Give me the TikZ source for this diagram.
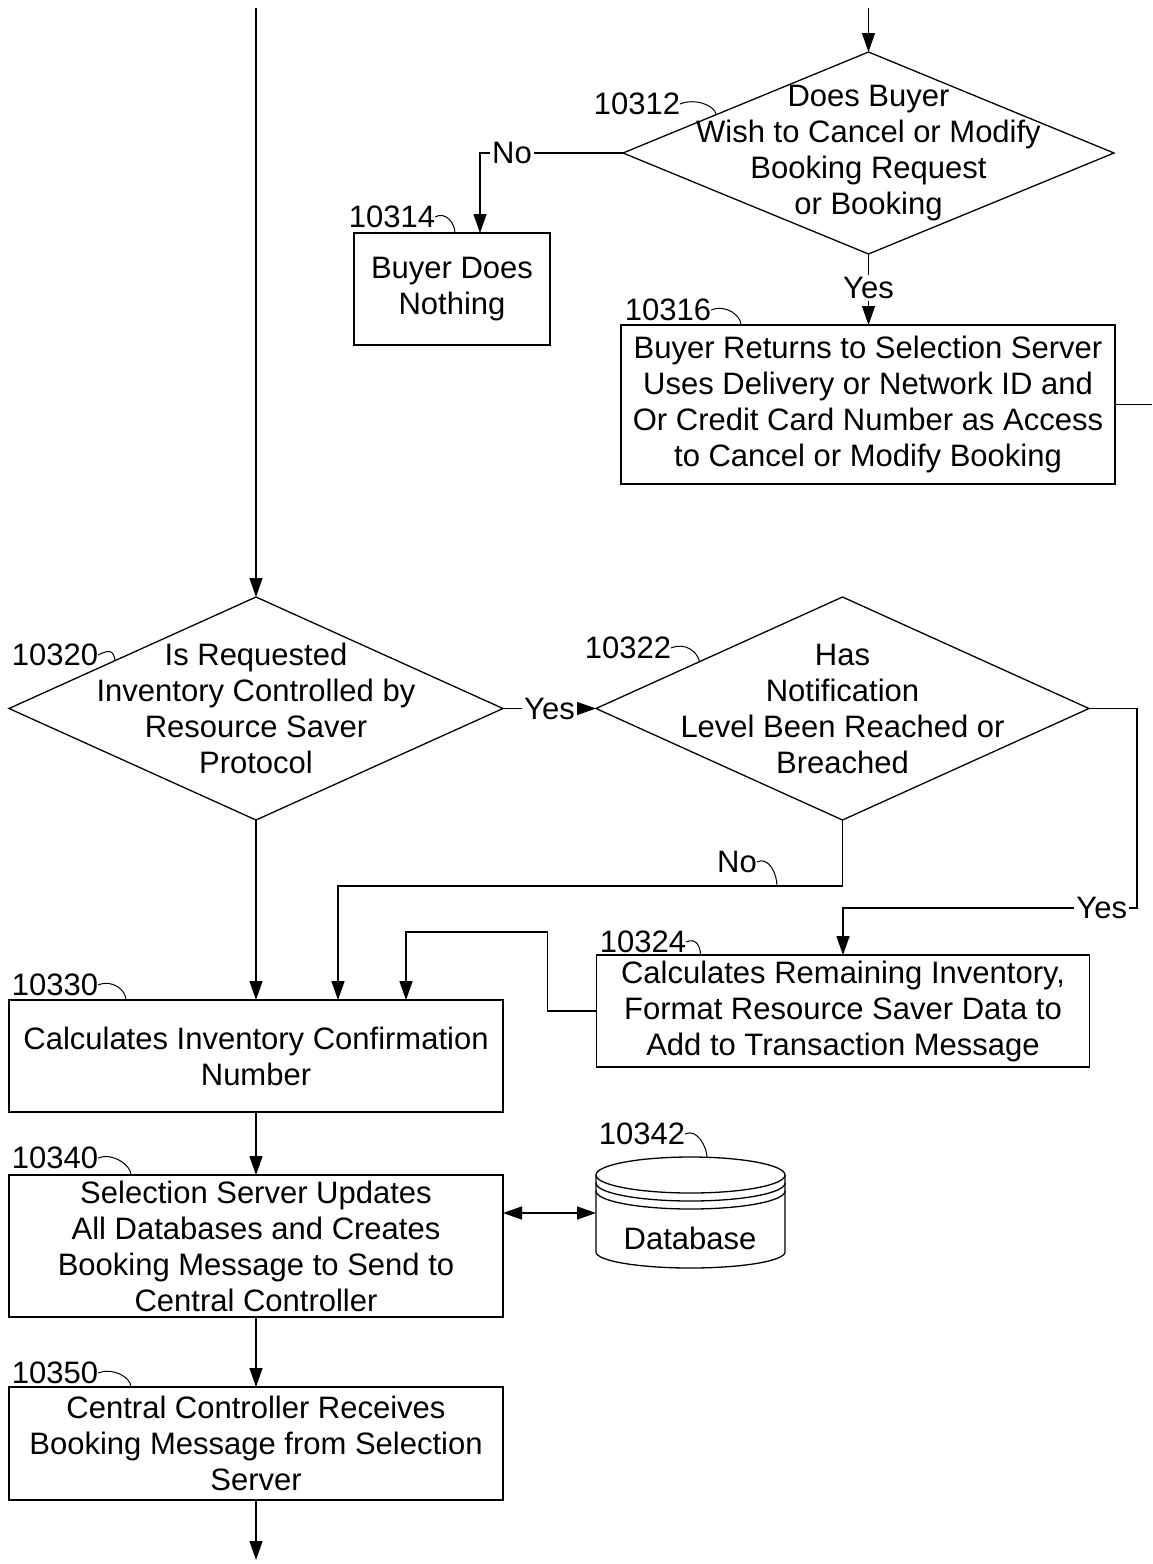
\documentclass[tikz,border=0pt]{standalone}
\usepackage{fontspec}
\setmainfont{Liberation Sans}
\usetikzlibrary{shapes.geometric,arrows.meta,calc}
\begin{document}
\begin{tikzpicture}[x=1pt,y=-1pt,
  every node/.style={font=\fontsize{31}{36}\selectfont, inner sep=0pt, outer sep=0pt},
  stepbox/.style={draw, line width=1.3pt, align=center},
  decision/.style={draw, diamond, line width=1.3pt},
  qtext/.style={align=center},
  flow/.style={line width=1.3pt},
  arr/.style={flow, -{Triangle[length=19pt,width=13pt]}},
  curl/.style={line width=1pt},
  tag/.style={fill=white, inner sep=2pt}]
\useasboundingbox (0,0) rectangle (1152,1564);
\fill[white] (0,0) rectangle (1152,1564);

% ---- decisions ----
\node[decision, minimum width=491pt, minimum height=202pt] (d10312) at (868.5,153) {};
\node[qtext] (t10312) at (d10312.center) {Does Buyer\\Wish to Cancel or Modify\\Booking Request\\or Booking};

\node[decision, minimum width=494pt, minimum height=223pt] (d10320) at (256,708.5) {};
\node[qtext] (t10320) at (d10320.center) {Is Requested\\Inventory Controlled by\\Resource Saver\\Protocol};

\node[decision, minimum width=493pt, minimum height=223pt] (d10322) at (842.5,708.5) {};
\node[qtext] (t10322) at (d10322.center) {Has\\Notification\\Level Been Reached or\\Breached};

% ---- process steps ----
\node[stepbox, minimum width=196pt, minimum height=112pt] (b10314) at (452,289) {Buyer Does\\Nothing};
\node[stepbox, minimum width=494pt, minimum height=159pt] (b10316) at (868,404.5)
  {Buyer Returns to Selection Server\\Uses Delivery or Network ID and\\Or Credit Card Number as Access\\to Cancel or Modify Booking};
\node[stepbox, minimum width=493pt, minimum height=112pt] (b10324) at (843,1011)
  {Calculates Remaining Inventory,\\Format Resource Saver Data to\\Add to Transaction Message};
\node[stepbox, minimum width=494pt, minimum height=112pt] (b10330) at (256,1056)
  {Calculates Inventory Confirmation\\Number};
\node[stepbox, minimum width=494pt, minimum height=142pt] (b10340) at (256,1246)
  {Selection Server Updates\\All Databases and Creates\\Booking Message to Send to\\Central Controller};
\node[stepbox, minimum width=494pt, minimum height=113pt] (b10350) at (256,1443.5)
  {Central Controller Receives\\Booking Message from Selection\\Server};

% ---- database cylinder ----
\node[minimum width=189pt, minimum height=77pt] (db) at (690.5,1213.5) {};
\draw[flow] (db.north west) -- (db.south west)
  arc[start angle=180, end angle=0, x radius=94.5, y radius=16] -- (db.north east);
\draw[flow] (db.north) ellipse [x radius=94.5, y radius=18];
\draw[flow] ([yshift=-8pt]db.north west) arc[start angle=180, end angle=0, x radius=94.5, y radius=18];
\draw[flow] ([yshift=-16pt]db.north west) arc[start angle=180, end angle=0, x radius=94.5, y radius=18];
\node (tdb) at (690,1238) {Database};

% ---- reference numerals ----
\node (n10312) at (637,104) {10312};
\node (n10314) at (392,217) {10314};
\node (n10316) at (668,310) {10316};
\node (n10320) at (55,655) {10320};
\node (n10322) at (628,648) {10322};
\node (n10324) at (643,942) {10324};
\node (n10330) at (55,985) {10330};
\node (n10340) at (55,1158) {10340};
\node (n10342) at (642,1134) {10342};
\node (n10350) at (55,1373) {10350};

\draw[curl] (n10312.east) .. controls +(14,-6) and +(-2,-10) .. ($(d10312.west)!0.38!(d10312.north)$);
\draw[curl] (n10314.east) .. controls +(10,-6) and +(0,-10) .. ([xshift=101pt]b10314.north west);
\draw[curl] (n10316.east) .. controls +(14,-6) and +(0,-10) .. ([xshift=120pt]b10316.north west);
\draw[curl] (n10320.east) .. controls +(12,-6) and +(-2,-10) .. ($(d10320.west)!0.43!(d10320.north)$);
\draw[curl] (n10322.east) .. controls +(14,-6) and +(-2,-10) .. ($(d10322.west)!0.42!(d10322.north)$);
\draw[curl] (n10324.east) .. controls +(10,-5) and +(0,-8) .. ([xshift=104pt]b10324.north west);
\draw[curl] (n10330.east) .. controls +(14,-6) and +(0,-10) .. ([xshift=117pt]b10330.north west);
\draw[curl] (n10340.east) .. controls +(14,-6) and +(0,-10) .. ([xshift=122pt]b10340.north west);
\draw[curl] (n10342.east) .. controls +(12,-6) and +(0,-10) .. ([xshift=16.5pt,yshift=17.7pt]db.north);
\draw[curl] (n10350.east) .. controls +(14,-6) and +(0,-10) .. ([xshift=122pt]b10350.north west);

% ---- connectors ----
\coordinate (inL) at (256,8);
\coordinate (inR) at (868.5,8);
\coordinate (outR) at (1152,404.5);
\coordinate (outB) at (256,1560);
\coordinate (yesTurn) at (1137,908);
\coordinate (noHook) at (777,886);

\draw[arr] (inR) -- (d10312.north);
\draw[arr] (inL) -- (d10320.north);

\draw[arr] (d10312.west) -| node[tag, pos=0.388] {No} ([xshift=28pt]b10314.north);
\draw[arr] (d10312.south) -- node[tag, pos=0.48] {Yes} (d10312.south |- b10316.north);
\draw[flow] (b10316.east) -- (outR);

\draw[arr] (d10320.east) -- node[tag] {Yes} (d10322.west);
\draw[arr] (d10322.east) -| (yesTurn) -- node[tag, pos=0.12] {Yes} (yesTurn -| b10324.north) -- (b10324.north);
\draw[arr] (d10322.south) -- ++(0,66) -| ([xshift=82pt]b10330.north);
\node (nNo) at (737,862) {No};
\draw[curl] (nNo.east) .. controls +(12,-6) and +(0,-12) .. (noHook);

\draw[arr] (d10320.south) -- (b10330.north);
\draw[arr] (b10324.west) -- ++(-49,0) -- ++(0,-79) -| ([xshift=150pt]b10330.north);

\draw[arr] (b10330.south) -- (b10340.north);
\draw[flow, {Triangle[length=19pt,width=13pt]}-{Triangle[length=19pt,width=13pt]}]
  ([yshift=33pt]b10340.east) -- ([yshift=33pt]b10340.east -| db.west);
\draw[arr] (b10340.south) -- (b10350.north);
\draw[arr] (b10350.south) -- (outB);
\end{tikzpicture}
\end{document}
